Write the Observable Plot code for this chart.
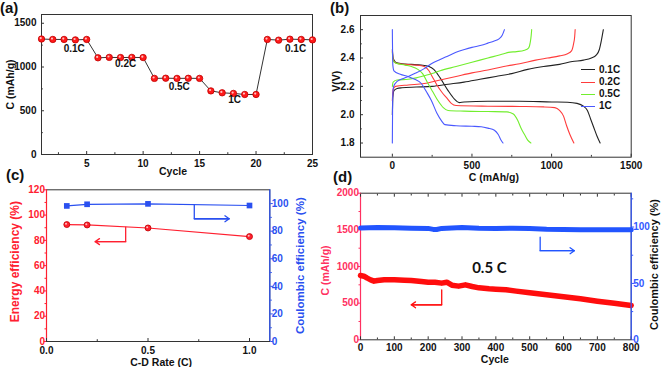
<!DOCTYPE html>
<html><head><meta charset="utf-8">
<script src="https://cdn.jsdelivr.net/npm/d3@7"></script>
<script src="https://cdn.jsdelivr.net/npm/@observablehq/plot@0.6"></script>
<style>
body{margin:0;background:#fff;}
#root{position:relative;width:661px;height:367px;overflow:hidden;background:#fff;font-family:"Liberation Sans",Arial,Helvetica,sans-serif;}
.plbl{position:absolute;font-weight:bold;font-size:15px;line-height:15px;color:#111;}
.leg{position:absolute;font-weight:bold;font-size:10px;color:#111;}
.leg div{position:absolute;white-space:nowrap;}
.leg span{display:inline-block;width:14px;height:0;border-top:1.2px solid;vertical-align:middle;margin-right:4px;}
</style></head>
<body><div id="root"></div>
<script>
// ---------------- (a) rate capability ----------------
const cyclesA = [1,2,3,4,5,6,7,8,9,10,11,12,13,14,15,16,17,18,19,20,21,22,23,24,25];
const capacityA = [1320,1315,1315,1310,1315,1105,1110,1108,1110,1108,870,872,870,871,870,727,705,698,686,686,1315,1307,1318,1315,1310];
const rateTagsA = ["0.1C","0.2C","0.5C","1C","0.1C"];
const rateTagCycleA = [3.9,8.45,13.2,18.1,23.5];
const rateTagCapA = [1205,1042,778,628,1205];

// ---------------- (b) charge/discharge curves ----------------
const ratesB = ["0.1C","0.2C","0.5C","1C"];
const chgCap01 = [0,3,10,30,60,150,250,350,450,550,650,750,850,950,1050,1130,1200,1250,1280,1300,1312,1325];
const chgV01   = [2.00,2.12,2.17,2.185,2.19,2.195,2.20,2.215,2.23,2.25,2.27,2.29,2.32,2.34,2.355,2.375,2.385,2.40,2.42,2.46,2.52,2.60];
const disCap01 = [0,5,20,60,120,180,230,260,300,350,390,420,450,600,800,1000,1100,1160,1200,1225,1245,1265,1285,1305];
const disV01   = [2.46,2.40,2.37,2.36,2.355,2.35,2.34,2.32,2.26,2.17,2.11,2.085,2.09,2.095,2.095,2.09,2.088,2.08,2.06,2.03,1.97,1.91,1.85,1.80];
const chgCap02 = [0,5,20,100,200,300,400,500,600,700,800,900,975,1050,1100,1125,1138,1145,1148];
const chgV02   = [2.10,2.18,2.20,2.21,2.22,2.245,2.27,2.295,2.315,2.34,2.36,2.385,2.40,2.415,2.43,2.45,2.50,2.55,2.60];
const disCap02 = [0,5,20,80,150,200,230,250,280,310,340,370,400,600,800,950,1020,1050,1075,1095,1115,1140];
const disV02   = [2.45,2.39,2.365,2.355,2.35,2.34,2.31,2.27,2.21,2.16,2.12,2.08,2.065,2.06,2.058,2.055,2.05,2.03,1.99,1.92,1.86,1.80];
const chgCap05 = [0,5,30,100,150,200,250,300,400,500,600,700,730,780,830,855,866,872,875];
const chgV05   = [2.20,2.23,2.245,2.25,2.26,2.275,2.29,2.31,2.34,2.37,2.40,2.43,2.44,2.445,2.455,2.47,2.51,2.56,2.60];
const disCap05 = [0,5,20,80,120,160,190,224,255,286,320,350,450,600,720,760,787,810,830,850,870];
const disV05   = [2.44,2.38,2.365,2.35,2.34,2.32,2.29,2.22,2.16,2.10,2.05,2.03,2.025,2.022,2.02,2.005,1.96,1.90,1.86,1.82,1.80];
const chgCap1  = [0,2,8,30,80,140,200,245,300,350,400,453,500,558,600,640,670,690,704];
const chgV1    = [1.80,2.12,2.20,2.235,2.26,2.29,2.325,2.36,2.39,2.415,2.44,2.46,2.475,2.49,2.505,2.52,2.535,2.56,2.60];
const disCap1  = [0,3,10,50,98,140,182,215,245,280,310,330,400,500,558,600,641,665,683,695];
const disV1    = [2.60,2.35,2.31,2.285,2.27,2.25,2.22,2.16,2.10,2.01,1.955,1.93,1.922,1.918,1.915,1.905,1.89,1.86,1.82,1.80];

// ---------------- (c) efficiencies ----------------
const rateC = [0.1,0.2,0.5,1.0];
const energyEffC = [92.5,92.2,89.8,83.0];
const coulombEffC = [98.3,99.5,99.8,98.6];

// ---------------- (d) long cycling at 0.5 C ----------------
const cycleCapD = [0,10,20,30,40,50,70,100,130,150,180,200,220,240,255,270,290,310,330,350,380,400,430,460,500,550,600,650,700,750,800];
const capD      = [877,868,841,818,800,809,818,818,814,809,795,786,786,773,786,745,732,750,727,709,695,691,682,664,641,614,586,559,527,500,468];
const cycleCeD  = [0,50,100,150,200,215,225,240,300,350,400,450,500,550,600,650,700,750,800];
const ceD       = [99.2,99.5,99.4,99.0,98.8,97.9,97.8,98.8,99.6,99.0,98.8,99.0,98.6,98.0,97.8,97.6,97.6,97.6,97.6];

// annotation arrows [xStart, yStart, yCorner, xEnd]
const arrowRedC  = [0.39, 90.4, 79, 0.24];
const arrowBlueC = [0.728, 99.2, 89, 0.90];
const arrowRedD  = [240, 682, 477, 150];
const arrowBlueD = [531, 91, 79, 632];

// ================= drawing =================
const root = document.getElementById("root");
const FONT = '"Liberation Sans", Arial, Helvetica, sans-serif';
const INK = "#333";
const colorsB = ["#222222","#ff3b3b","#72ee2e","#4a58ff"];
const RED_C = "#ff2030", BLUE_C = "#2a50f0";
const RED_D = "#ff3060", BLUE_D = "#3358ff";

function put(svg, left, top, overflow="visible") {
  Object.assign(svg.style, {position:"absolute", left:left+"px", top:top+"px", overflow, background:"transparent", maxWidth:"none"});
  root.appendChild(svg);
}
const blank = () => "";
function axX(major, minor, o={}) {
  const {color=INK, pad=4, fmt=d3.format("d"), size=10, top=false} = o;
  const m = [
    Plot.axisX(major, {anchor:"bottom", tickSize:-3, tickFormat:blank, color, label:null}),
    Plot.axisX(minor, {anchor:"bottom", tickSize:-1.8, tickFormat:blank, color, label:null}),
    Plot.axisX(major, {anchor:"bottom", tickSize:0, tickPadding:pad, tickFormat:fmt, color:"#111", fontSize:size, fontWeight:"bold", label:null})
  ];
  if (top) m.push(
    Plot.axisX(major, {anchor:"top", tickSize:-3, tickFormat:blank, color, label:null}),
    Plot.axisX(minor, {anchor:"top", tickSize:-1.8, tickFormat:blank, color, label:null}));
  return m;
}
function axY(major, minor, o={}) {
  const {color=INK, textColor="#111", pad=4, fmt=d3.format("d"), size=10, anchor="left", len=-3} = o;
  return [
    Plot.axisY(major, {anchor, tickSize:len, tickFormat:blank, color, label:null}),
    Plot.axisY(minor, {anchor, tickSize:len*0.6, tickFormat:blank, color, label:null}),
    Plot.axisY(major, {anchor, tickSize:0, tickPadding:pad, tickFormat:fmt, color:textColor, fontSize:size, fontWeight:"bold", label:null})
  ];
}
function title(t, anchor, dx, dy, o={}) {
  return Plot.text([t], {text:d=>d, frameAnchor:anchor, dx, dy, rotate:o.rotate||0,
    fontSize:o.size||10.5, fontWeight:"bold", fill:o.color||"#111",
    lineAnchor:"middle", textAnchor:"middle", fontFamily:o.font||FONT});
}
function bracket(a, color) {
  const [xs, ys, yc, xe] = a;
  return [
    Plot.line([[xs,ys],[xs,yc],[xe,yc]], {x:d=>d[0], y:d=>d[1], stroke:color, strokeWidth:1.3}),
    Plot.arrow([a], {x1:d=>d[0], y1:d=>d[2], x2:d=>d[3], y2:d=>d[2], stroke:color, strokeWidth:1.3, headLength:6, headAngle:70})
  ];
}
const baseStyle = {fontFamily:FONT, background:"transparent", color:"#111", overflow:"visible"};

// ---- (a)
const dataA = cyclesA.map((c,i)=>({cycle:c, cap:capacityA[i]}));
const tagsA = rateTagsA.map((t,i)=>({t, x:rateTagCycleA[i], y:rateTagCapA[i]}));
put(Plot.plot({
  width:330, height:180, marginLeft:41, marginRight:18, marginTop:14, marginBottom:26,
  style:baseStyle, x:{domain:[1,25]}, y:{domain:[0,1600]},
  marks:[
    Plot.frame({stroke:INK}),
    ...axX([5,10,15,20,25],[2.5,7.5,12.5,17.5,22.5],{pad:5}),
    ...axY([0,500,1000,1500],[250,750,1250],{pad:5}),
    Plot.line(dataA,{x:"cycle",y:"cap",stroke:"#333",strokeWidth:1}),
    Plot.dot(dataA,{x:"cycle",y:"cap",r:3.2,fill:"#ff1a1a",stroke:"#c00000",strokeWidth:0.8}),
    Plot.dot(dataA,{x:"cycle",y:"cap",r:1.1,fill:"#ffc0c0",dx:-0.8,dy:-0.9}),
    Plot.text(tagsA,{x:"x",y:"y",text:"t",fontSize:10,fontWeight:"bold",fill:"#111"}),
    title("Cycle","bottom",-4,17),
    title("C (mAh/g)","left",-31,0,{rotate:-90})
  ]
}), 0, 0);

// ---- (b)
const seriesB = [
  [ratesB[0], chgCap01, chgV01], [ratesB[0], disCap01, disV01],
  [ratesB[1], chgCap02, chgV02], [ratesB[1], disCap02, disV02],
  [ratesB[2], chgCap05, chgV05], [ratesB[2], disCap05, disV05],
  [ratesB[3], chgCap1, chgV1],   [ratesB[3], disCap1, disV1]
];
const curvesB = seriesB.flatMap(([rate, cs, vs], k) => cs.map((c,i)=>({rate, key:k, c, v:vs[i]})));
put(Plot.plot({
  width:331, height:180, marginLeft:30, marginRight:30.3, marginTop:15, marginBottom:23.3,
  style:baseStyle, x:{domain:[-200,1500]}, y:{domain:[1.7,2.7]},
  color:{domain:ratesB, range:colorsB},
  marks:[
    Plot.frame({stroke:INK}),
    ...axX([0,500,1000,1500],[250,750,1250],{pad:4.5}),
    ...axY([1.8,2.0,2.2,2.4,2.6],[1.9,2.1,2.3,2.5],{pad:6, fmt:d3.format(".1f")}),
    Plot.line(curvesB,{x:"c",y:"v",z:"key",stroke:"rate",strokeWidth:1.1,curve:"monotone-x"}),
    title("C (mAh/g)","bottom",-2,20),
    title("V(V)","left",-24,-5,{rotate:-90})
  ]
}), 330, 0);

// legend (b)
const leg = document.createElement("div");
leg.className = "leg"; leg.style.left = "581px"; leg.style.top = "63.5px";
ratesB.forEach((r,i)=>{
  const row = document.createElement("div");
  row.style.top = (i*12.3)+"px"; row.style.left = "0px";
  row.innerHTML = `<span style="border-top-color:${colorsB[i]}"></span>${r}`;
  leg.appendChild(row);
});
root.appendChild(leg);

// ---- (c)
const dataC = rateC.map((r,i)=>({rate:r, energy:energyEffC[i], ce:coulombEffC[i]}));
const optC = {width:330, height:187, marginLeft:46, marginRight:60.7, marginTop:9.3, marginBottom:26, style:baseStyle};
put(Plot.plot({...optC, x:{domain:[0,1.1]}, y:{domain:[0,120]},
  marks:[
    Plot.frame({stroke:INK}),
    Plot.ruleX([0],{stroke:RED_C,strokeWidth:1.2}),
    ...axX([0,0.5,1.0],[0.25,0.75],{fmt:d3.format(".1f"),pad:5.5}),
    ...axY([0,20,40,60,80,100,120],[10,30,50,70,90,110],{color:RED_C,textColor:RED_C,len:2.5,pad:1.5}),
    Plot.line(dataC,{x:"rate",y:"energy",stroke:RED_C,strokeWidth:1.2}),
    Plot.dot(dataC,{x:"rate",y:"energy",r:3,fill:RED_C,stroke:"#c00000",strokeWidth:0.8}),
    Plot.dot(dataC,{x:"rate",y:"energy",r:1,fill:"#ffc0c0",dx:-0.8,dy:-0.8}),
    ...bracket(arrowRedC, RED_C),
    title("C-D Rate (C)","bottom",3,21.5),
    title("Energy efficiency (%)","left",-31,-4,{rotate:-90,color:RED_C,size:12})
  ]}), 0, 180);
put(Plot.plot({...optC, x:{domain:[0,1.1], axis:null}, y:{domain:[0,110]},
  marks:[
    Plot.ruleX([1.1],{stroke:BLUE_C,strokeWidth:1.2}),
    ...axY([0,20,40,60,80,100],[10,30,50,70,90],{anchor:"right",color:BLUE_C,textColor:BLUE_C,len:2.5,pad:2}),
    Plot.line(dataC,{x:"rate",y:"ce",stroke:BLUE_C,strokeWidth:1.2}),
    Plot.dot(dataC,{x:"rate",y:"ce",r:3.2,symbol:"square",fill:BLUE_C}),
    ...bracket(arrowBlueC, BLUE_C),
    title("Coulombic efficiency (%)","right",31,0,{rotate:-90,color:BLUE_C,size:11.5})
  ]}), 0, 180);

// ---- (d)
const capSeriesD = cycleCapD.map((c,i)=>({cycle:c, cap:capD[i]}));
const ceSeriesD = cycleCeD.map((c,i)=>({cycle:c, ce:ceD[i]}));
const optD = {width:331, height:187, marginLeft:30, marginRight:30.3, marginTop:12.7, marginBottom:27.7, style:baseStyle};
put(Plot.plot({...optD, x:{domain:[0,800]}, y:{domain:[0,2000]},
  marks:[
    Plot.frame({stroke:INK}),
    Plot.ruleX([0],{stroke:RED_D,strokeWidth:1.2}),
    ...axX([0,100,200,300,400,500,600,700,800],[50,150,250,350,450,550,650,750],{pad:4.5,top:true}),
    ...axY([0,500,1000,1500,2000],[250,750,1250,1750],{color:RED_D,textColor:RED_D,len:2.5,pad:1.5}),
    Plot.line(capSeriesD,{x:"cycle",y:"cap",stroke:"#ff0d0d",strokeWidth:5.5}),
    ...bracket(arrowRedD, "#ff0d0d"),
    Plot.text(["0.5 C"],{text:d=>d,x:()=>381,y:()=>975,fontSize:15,fontWeight:"bold",fill:"#111",fontFamily:"Lato, 'Open Sans', sans-serif"}),
    title("Cycle","bottom",-1,19.5),
    title("C (mAh/g)","left",-35,4,{rotate:-90,color:RED_D})
  ]}), 330, 180);
put(Plot.plot({...optD, x:{domain:[0,800], axis:null}, y:{domain:[0,130]},
  marks:[
    Plot.ruleX([800],{stroke:BLUE_D,strokeWidth:1.2}),
    ...axY([0,50,100],[25,75,125],{anchor:"right",color:BLUE_D,textColor:BLUE_D,len:2.5,pad:2}),
    Plot.line(ceSeriesD,{x:"cycle",y:"ce",stroke:"#2255ff",strokeWidth:5}),
    ...bracket(arrowBlueD, "#2255ff"),
    title("Coulombic efficiency (%)","right",23,-2,{rotate:-90,size:11})
  ]}), 330, 180);

// panel letters
[["(a)",0,0],["(b)",330,0],["(c)",6,166.5],["(d)",333,169]].forEach(([t,x,y])=>{
  const d = document.createElement("div");
  d.className = "plbl"; d.textContent = t; d.style.left = x+"px"; d.style.top = y+"px";
  root.appendChild(d);
});
</script>
</body></html>
